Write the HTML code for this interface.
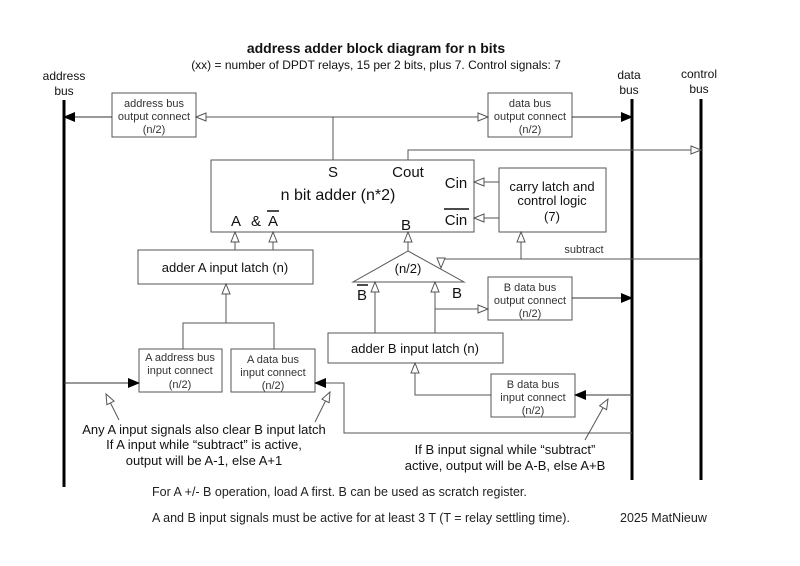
<!DOCTYPE html>
<html><head><meta charset="utf-8"><style>
html,body{margin:0;padding:0;background:#fff;}
svg{display:block;font-family:"Liberation Sans",sans-serif;}
</style></head><body>
<svg width="800" height="566" viewBox="0 0 800 566" xmlns="http://www.w3.org/2000/svg">
<defs>
<marker id="o" markerWidth="12" markerHeight="10" refX="11" refY="5" orient="auto" markerUnits="userSpaceOnUse"><path d="M1,1 L11,5 L1,9 Z" fill="#fff" stroke="#555" stroke-width="1"/></marker>
<marker id="f" markerWidth="12" markerHeight="10" refX="11" refY="5" orient="auto" markerUnits="userSpaceOnUse"><path d="M0,0 L12,5 L0,10 Z" fill="#000"/></marker>
</defs>
<g text-anchor="middle" fill="#111">
<text x="376" y="53" font-size="14" font-weight="bold">address adder block diagram for n bits</text>
<text x="376" y="69" font-size="12">(xx) = number of DPDT relays, 15 per 2 bits, plus 7. Control signals: 7</text>
<text x="64" y="80" font-size="12">address</text><text x="64" y="95" font-size="12">bus</text>
<text x="629" y="79" font-size="12">data</text><text x="629" y="94" font-size="12">bus</text>
<text x="699" y="78" font-size="12">control</text><text x="699" y="93" font-size="12">bus</text>
</g>
<g stroke="#000" stroke-width="3">
<line x1="64" y1="100" x2="64" y2="487"/>
<line x1="632" y1="99" x2="632" y2="480"/>
<line x1="701" y1="99" x2="701" y2="480"/>
</g>
<g fill="#fff" stroke="#555" stroke-width="1">
<rect x="112" y="93" width="84" height="44"/>
<rect x="488" y="93" width="84" height="44"/>
<rect x="211" y="160" width="263" height="72"/>
<rect x="499" y="168" width="107" height="64"/>
<rect x="138" y="250" width="175" height="34"/>
<path d="M408,251 L353,282 L464,282 Z"/>
<rect x="488" y="277" width="84" height="43"/>
<rect x="328" y="333" width="175" height="30"/>
<rect x="139" y="349" width="83" height="43"/>
<rect x="231" y="349" width="84" height="43"/>
<rect x="491" y="374" width="84" height="43"/>
</g>
<g stroke="#555" stroke-width="1" fill="none">
<line x1="112" y1="117" x2="64" y2="117" marker-end="url(#f)" stroke="#333"/>
<line x1="333" y1="117" x2="196" y2="117" marker-end="url(#o)"/>
<line x1="333" y1="117" x2="488" y2="117" marker-end="url(#o)"/>
<line x1="333" y1="117" x2="333" y2="160"/>
<line x1="572" y1="117" x2="632" y2="117" marker-end="url(#f)" stroke="#333"/>
<path d="M408,160 L408,150 L701,150" marker-end="url(#o)"/>
<line x1="499" y1="182" x2="474" y2="182" marker-end="url(#o)"/>
<line x1="499" y1="218" x2="474" y2="218" marker-end="url(#o)"/>
<path d="M701,259 L441,259 L441,268" marker-end="url(#o)"/>
<line x1="521" y1="259" x2="521" y2="232" marker-end="url(#o)"/>
<line x1="408" y1="251" x2="408" y2="232" marker-end="url(#o)"/>
<line x1="235" y1="250" x2="235" y2="232" marker-end="url(#o)"/>
<line x1="273" y1="250" x2="273" y2="232" marker-end="url(#o)"/>
<line x1="375" y1="333" x2="375" y2="282" marker-end="url(#o)"/>
<line x1="435" y1="333" x2="435" y2="282" marker-end="url(#o)"/>
<line x1="435" y1="309" x2="488" y2="309" marker-end="url(#o)"/>
<line x1="572" y1="298" x2="632" y2="298" marker-end="url(#f)" stroke="#333"/>
<line x1="226" y1="323" x2="226" y2="284" marker-end="url(#o)"/>
<path d="M183,349 L183,323 L274,323 L274,349"/>
<line x1="64" y1="383" x2="139" y2="383" marker-end="url(#f)" stroke="#333"/>
<path d="M632,433 L344,433 L344,383 L315,383" marker-end="url(#f)"/>
<path d="M491,395 L415,395 L415,363" marker-end="url(#o)"/>
<line x1="632" y1="395" x2="575" y2="395" marker-end="url(#f)" stroke="#333"/>
<line x1="119" y1="420" x2="106" y2="394" marker-end="url(#o)"/>
<line x1="315" y1="422" x2="330" y2="392" marker-end="url(#o)"/>
<line x1="585" y1="440" x2="608" y2="399" marker-end="url(#o)"/>
</g>
<g text-anchor="middle" fill="#333" font-size="11">
<text x="154" y="107">address bus</text><text x="154" y="120">output connect</text><text x="154" y="133">(n/2)</text>
<text x="530" y="107">data bus</text><text x="530" y="120">output connect</text><text x="530" y="133">(n/2)</text>
<text x="530" y="291">B data bus</text><text x="530" y="304">output connect</text><text x="530" y="317">(n/2)</text>
<text x="180" y="361">A address bus</text><text x="180" y="374">input connect</text><text x="180" y="388">(n/2)</text>
<text x="273" y="363">A data bus</text><text x="273" y="376">input connect</text><text x="273" y="389">(n/2)</text>
<text x="533" y="388">B data bus</text><text x="533" y="401">input connect</text><text x="533" y="414">(n/2)</text>
<text x="584" y="253">subtract</text>
</g>
<g text-anchor="middle" fill="#111">
<text x="333" y="177" font-size="15">S</text>
<text x="408" y="177" font-size="15">Cout</text>
<text x="338" y="200" font-size="16">n bit adder (n*2)</text>
<text x="236" y="226" font-size="15">A</text>
<text x="256" y="226" font-size="15">&amp;</text>
<text x="273" y="226" font-size="15">A</text><line x1="267" y1="211" x2="279" y2="211" stroke="#111" stroke-width="1.5"/>
<text x="406" y="230" font-size="15">B</text>
<text x="456" y="188" font-size="15">Cin</text>
<text x="456" y="225" font-size="15">Cin</text><line x1="444" y1="209" x2="469" y2="209" stroke="#111" stroke-width="1.5"/>
<text x="552" y="191" font-size="13">carry latch and</text><text x="552" y="205" font-size="13">control logic</text><text x="552" y="221" font-size="13">(7)</text>
<text x="225" y="272" font-size="13">adder A input latch (n)</text>
<text x="408" y="273" font-size="13">(n/2)</text>
<text x="362" y="300" font-size="15">B</text><line x1="357" y1="285" x2="368" y2="285" stroke="#111" stroke-width="1.5"/>
<text x="457" y="298" font-size="15">B</text>
<text x="415" y="353" font-size="13">adder B input latch (n)</text>
<text x="204" y="434" font-size="13">Any A input signals also clear B input latch</text>
<text x="204" y="449" font-size="13">If A input while “subtract” is active,</text>
<text x="204" y="465" font-size="13">output will be A-1, else A+1</text>
<text x="505" y="454" font-size="13">If B input signal while “subtract”</text>
<text x="505" y="470" font-size="13">active, output will be A-B, else A+B</text>
</g>
<g fill="#222" font-size="12.5">
<text x="152" y="496">For A +/- B operation, load A first. B can be used as scratch register.</text>
<text x="152" y="522">A and B input signals must be active for at least 3 T (T = relay settling time).</text>
<text x="620" y="522">2025 MatNieuw</text>
</g>
</svg>
</body></html>
